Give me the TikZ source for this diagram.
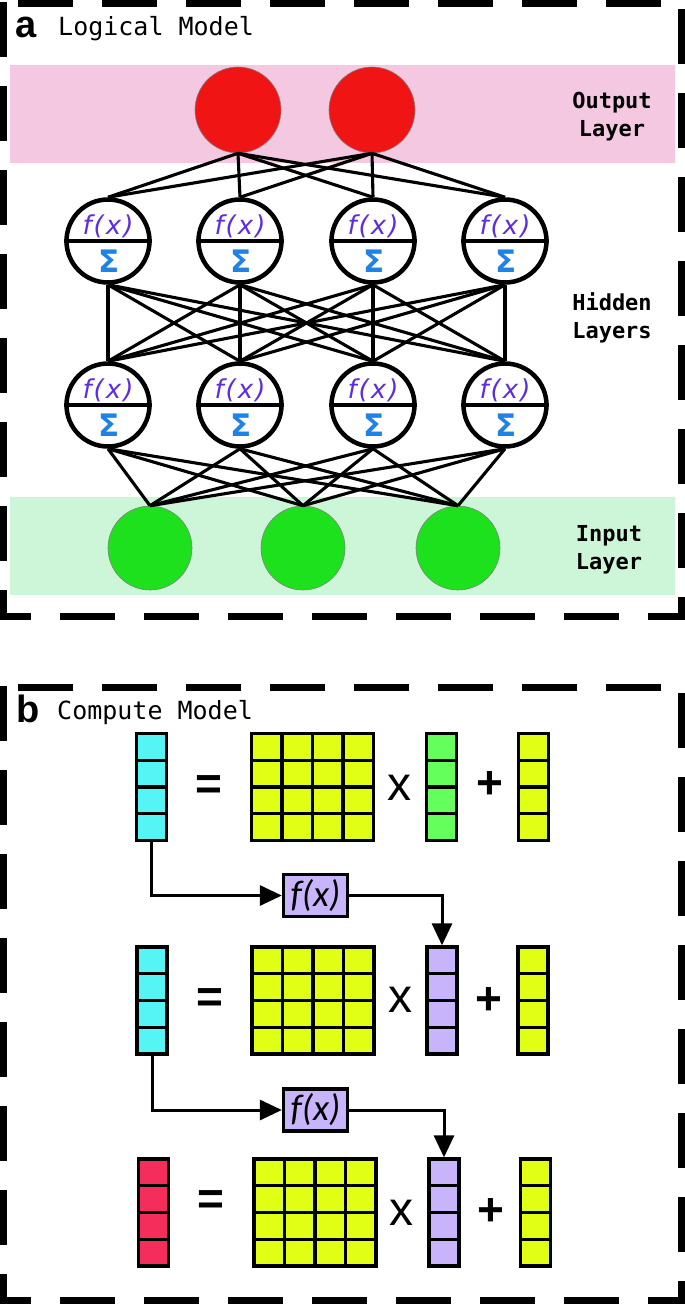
\documentclass[tikz,border=0pt]{standalone}
\usepackage{fontspec}
\usetikzlibrary{arrows.meta}
\newfontfamily\monof{DejaVu Sans Mono}
\newfontfamily\arialf{Liberation Sans}
\newfontfamily\dejaf{DejaVu Sans}
\newfontfamily\carf{Carlito}
\definecolor{pinkband}{RGB}{245,200,225}
\definecolor{greenband}{RGB}{205,245,215}
\definecolor{redc}{RGB}{240,20,20}
\definecolor{greenc}{RGB}{30,225,30}
\definecolor{fxpurple}{RGB}{95,45,225}
\definecolor{sigblue}{RGB}{30,130,230}
\definecolor{cyanv}{RGB}{85,245,245}
\definecolor{yellowv}{RGB}{225,255,20}
\definecolor{greenv}{RGB}{100,255,90}
\definecolor{purplev}{RGB}{200,180,250}
\definecolor{redv}{RGB}{245,45,90}
\newcommand\cvec[4]{%
  \node[vbox,fill=#4] (#1) at (#2,#3) {};
  \foreach \k in {-1,0,1} \draw[gl] (#2-15,{#3+26.75*\k}) -- (#2+15,{#3+26.75*\k});
}
\newcommand\cmat[3]{%
  \node[mbox] (#1) at (#2,#3) {};
  \foreach \k in {-1,0,1} {
    \draw[gl] (#2-61,{#3+26.75*\k}) -- (#2+61,{#3+26.75*\k});
    \draw[gl] ({#2+30.5*\k},#3-53.5) -- ({#2+30.5*\k},#3+53.5);
  }
}
\begin{document}
\begin{tikzpicture}[x=1pt,y=-1pt,
  hid/.style={circle, draw, line width=4.5pt, fill=white, minimum size=83pt, inner sep=0pt},
  outn/.style={circle, draw=black!50, line width=0.6pt, fill=redc, minimum size=86pt, inner sep=0pt},
  inn/.style={circle, draw=black!50, line width=0.6pt, fill=greenc, minimum size=84pt, inner sep=0pt},
  conn/.style={line width=3.1pt},
  bord/.style={line width=7pt, dash pattern=on 55pt off 29pt},
  fxt/.style={font=\dejaf\itshape\fontsize{26}{28}\selectfont, text=fxpurple, inner sep=0pt},
  sig/.style={font=\dejaf\bfseries\fontsize{31}{33}\selectfont, text=sigblue, inner sep=0pt},
  laylab/.style={font=\monof\bfseries\fontsize{22}{26}\selectfont, anchor=base, inner sep=0pt},
  vbox/.style={rectangle, draw, line width=3.3pt, minimum width=30pt, minimum height=107pt, inner sep=0pt},
  mbox/.style={rectangle, draw, fill=yellowv, line width=3.3pt, minimum width=122pt, minimum height=107pt, inner sep=0pt},
  gl/.style={line width=3.3pt},
  sym/.style={font=\arialf\bfseries\fontsize{46}{50}\selectfont, inner sep=0pt},
  xsym/.style={font=\arialf\fontsize{48}{52}\selectfont, inner sep=0pt},
  fbox/.style={rectangle, draw, fill=purplev, line width=3.3pt, minimum width=64pt, minimum height=42pt, inner sep=0pt,
    font=\carf\itshape\fontsize{37}{40}\selectfont},
  arr/.style={line width=3pt, -{Triangle[length=22pt,width=20pt]}}
]
\useasboundingbox (0,0) rectangle (685,1304);

% ---------- panel a ----------
\fill[pinkband] (10,65) rectangle (675,163);
\fill[greenband] (10,497) rectangle (675,595);

\draw[bord, dash phase=65.5pt] (-0.5,3) -- (681,3);
\draw[bord, dash phase=23.5pt] (-0.5,616) -- (681,616);
\draw[bord, dash phase=25.5pt] (3,619.5) -- (3,0);
\draw[bord, dash phase=32.5pt] (681,619.5) -- (681,0);

\node[anchor=base west, font=\arialf\bfseries\fontsize{38}{40}\selectfont, inner sep=0pt] (la) at (15,37) {a};
\node[anchor=base west, font=\monof\fontsize{25}{28}\selectfont, inner sep=0pt] (lta) at (58,35) {Logical Model};

\node[outn] (o1) at (238,110) {};
\node[outn] (o2) at (372,110) {};

\foreach \x [count=\i] in {108,240,373,505} {
  \node[hid] (ha\i) at (\x,241) {};
  \draw[line width=4.5pt] (ha\i.west) -- (ha\i.east);
  \node[fxt] (haf\i) at (\x,226) {f\kern2pt(\kern2pt x\kern2pt)};
  \node[sig] (has\i) at (\x+1,261) {Σ};
  \node[hid] (hb\i) at (\x,405) {};
  \draw[line width=4.5pt] (hb\i.west) -- (hb\i.east);
  \node[fxt] (hbf\i) at (\x,390) {f\kern2pt(\kern2pt x\kern2pt)};
  \node[sig] (hbs\i) at (\x+1,425) {Σ};
}

\node[inn] (in1) at (150,548) {};
\node[inn] (in2) at (303,548) {};
\node[inn] (in3) at (458,548) {};

\foreach \o in {1,2} \foreach \h in {1,...,4} \draw[conn] (o\o.south) -- (ha\h.north);
\foreach \a in {1,...,4} \foreach \b in {1,...,4} \draw[conn] (ha\a.south) -- (hb\b.north);
\foreach \a in {1,...,4} \foreach \b in {1,2,3} \draw[conn] (hb\a.south) -- (in\b.north);

\node[laylab] (lo1) at (612,108) {Output};
\node[laylab] (lo2) at (612,136) {Layer};
\node[laylab] (lh1) at (612,310) {Hidden};
\node[laylab] (lh2) at (612,338) {Layers};
\node[laylab] (li1) at (609,541) {Input};
\node[laylab] (li2) at (609,569) {Layer};

% ---------- panel b ----------
\draw[bord, dash phase=65.5pt] (-0.5,687) -- (681,687);
\draw[bord, dash phase=23.5pt] (-0.5,1300) -- (681,1300);
\draw[bord, dash phase=25.5pt] (3,1303.5) -- (3,684);
\draw[bord, dash phase=32.5pt] (681,1303.5) -- (681,684);

\node[anchor=base west, font=\arialf\bfseries\fontsize{38}{40}\selectfont, inner sep=0pt] (lb) at (16,722) {b};
\node[anchor=base west, font=\monof\fontsize{25}{28}\selectfont, inner sep=0pt] (ltb) at (57,719) {Compute Model};

% row 1
\cvec{r1a}{151.5}{787}{cyanv}
\cmat{r1m}{312.5}{787}
\cvec{r1b}{441.5}{787}{greenv}
\cvec{r1c}{533.5}{787}{yellowv}
\node[sym] (r1eq) at (209,788) {=};
\node[xsym] (r1x) at (399,788) {x};
\node[sym] (r1p) at (490,785) {+};

% row 2
\cvec{r2a}{152}{1000.5}{cyanv}
\cmat{r2m}{313}{1000.5}
\cvec{r2b}{442}{1000.5}{purplev}
\cvec{r2c}{533}{1000.5}{yellowv}
\node[sym] (r2eq) at (210,1001) {=};
\node[xsym] (r2x) at (400,1000) {x};
\node[sym] (r2p) at (489,1001) {+};

% row 3
\cvec{r3a}{153.5}{1212.5}{redv}
\cmat{r3m}{315}{1212.5}
\cvec{r3b}{444}{1212.5}{purplev}
\cvec{r3c}{535.5}{1212.5}{yellowv}
\node[sym] (r3eq) at (211,1203) {=};
\node[xsym] (r3x) at (401,1213) {x};
\node[sym] (r3p) at (491,1212) {+};

% f(x) boxes and arrows
\node[fbox] (f1) at (315.5,895.5) {f(x)};
\node[fbox] (f2) at (315.5,1110) {f(x)};
\draw[arr] (r1a.south) |- (f1.west);
\draw[arr] (f1.east) -| (r2b.north);
\draw[arr] (r2a.south) |- (f2.west);
\draw[arr] (f2.east) -| (r3b.north);
\end{tikzpicture}
\end{document}
